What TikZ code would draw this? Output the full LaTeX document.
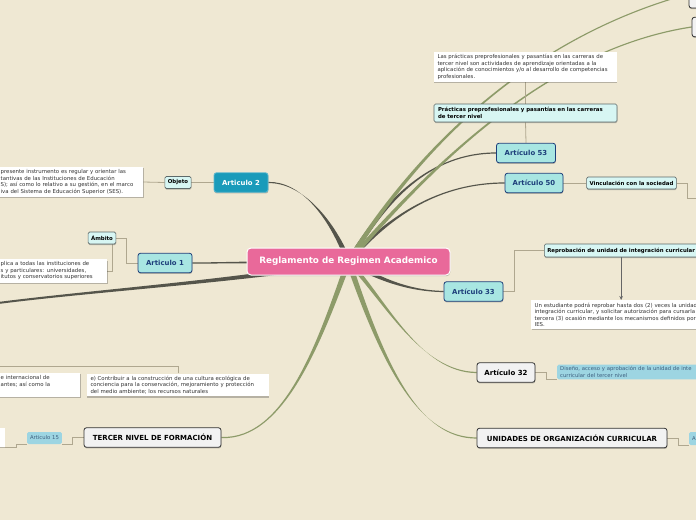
\documentclass[tikz,border=0pt]{standalone}
\usepackage{fontspec}
\setmainfont{DejaVu Sans}
\usetikzlibrary{calc,shadows,arrows.meta}
\definecolor{paper}{HTML}{EFE8D3}
\definecolor{rootpink}{HTML}{E9699A}
\definecolor{tealdark}{HTML}{1A9BBA}
\definecolor{artfill}{HTML}{A8E6E2}
\definecolor{artline}{HTML}{1D3E7A}
\definecolor{tagfill}{HTML}{D7F6F3}
\definecolor{tagline}{HTML}{5E6A6A}
\definecolor{greyfill}{HTML}{F2F2F2}
\definecolor{greyline}{HTML}{333333}
\definecolor{notefill}{HTML}{9DD5E2}
\definecolor{notetext}{HTML}{3D5E7E}
\definecolor{twigcol}{HTML}{AFA78F}
\definecolor{darkbr}{HTML}{55554B}
\definecolor{greenbr}{HTML}{8D9B69}
\pgfdeclarelayer{edges}
\pgfsetlayers{edges,main}
% tapered branch: colour, start, control 1, control 2, end, start half width, end half width
\newcommand\limb[7]{%
  \fill[#1] ($#2+#6$) .. controls ($#3+0.6*#6$) and ($#4+#7$) .. ($#5+#7$)
    -- ($#5-#7$) .. controls ($#4-#7$) and ($#3-0.6*#6$) .. ($#2-#6$) -- cycle;}
\begin{document}
\begin{tikzpicture}[x=1pt,y=-1pt,
  every node/.style={font=\fontsize{5.4}{6.5}\selectfont},
  lift/.style={drop shadow={shadow xshift=0.3pt,shadow yshift=-1.2pt,opacity=0.35,fill=black!70}},
  rootbox/.style={fill=rootpink,draw=white,line width=1pt,rounded corners=4pt,text=white,
    minimum width=203,minimum height=27,inner sep=0pt,lift,font=\fontsize{8.8}{10}\bfseries\selectfont},
  art/.style={fill=artfill,draw=artline,text=artline,line width=0.8pt,rounded corners=2.5pt,
    minimum width=#1,minimum height=19.5,inner sep=0pt,lift,font=\fontsize{6.9}{8}\bfseries\selectfont},
  artdark/.style={art=#1,fill=tealdark,draw=tealdark!70!white,text=white},
  greybox/.style={fill=greyfill,draw=greyline,text=black,line width=0.8pt,rounded corners=2.5pt,
    minimum width=#1,minimum height=19.5,inner sep=0pt,lift,font=\fontsize{7}{8}\bfseries\selectfont},
  tag/.style={fill=tagfill,draw=tagline,line width=0.6pt,rounded corners=1.5pt,minimum height=12,
    inner xsep=3pt,inner ysep=0pt,lift,font=\fontsize{5.4}{6.3}\bfseries\selectfont},
  memo/.style={fill=white,inner xsep=3.5pt,inner ysep=2.5pt,align=left,lift,text=black!80},
  note/.style={fill=notefill,text=notetext,rounded corners=1.5pt,inner xsep=3pt,inner ysep=2pt,align=left,
    font=\fontsize{5.3}{6.3}\selectfont},
  twig/.style={draw=twigcol,line width=0.8pt}]
\useasboundingbox (0,0) rectangle (696,520);
\clip (0,0) rectangle (696,520);

% centre
\node[rootbox] (root) at (348.5,261.5) {Reglamento de Regimen Academico};

% left side
\node[artdark=54] (art2) at (241,182.5) {Articulo 2};
\node[tag] (objeto) at (178,182.5) {Objeto};
\node[memo,anchor=west,text width=139pt] (objtext) at (-3,182) {presente instrumento es regular y orientar las\\
  tantivas de las Instituciones de Educación\\
  S); así como  lo relativo a su gestión, en el marco\\
  iva del Sistema de Educación Superior (SES).};
\node[art=54] (art1) at (165,263) {Articulo 1};
\node[tag] (ambito) at (102,238) {Ámbito};
\node[memo,anchor=west,text width=103pt] (ambtext) at (-3,271) {plica a todas las instituciones de\\
  s y particulares: universidades,\\
  itutos y conservatorios superiores};
\node[memo,text width=175pt] (ebox) at (178,385) {e) Contribuir a la construcción de una cultura ecológica de\\
  conciencia para la conservación, mejoramiento y protección\\
  del medio ambiente;  los recursos naturales};
\node[memo,anchor=west,text width=76pt,minimum height=24] (dbox) at (-3,385) {e internacional de\\
  antes; así como la\\ \strut};
\node[greybox=137] (tercer) at (152.5,437.5) {TERCER NIVEL DE FORMACIÓN};
\node[note,minimum height=12,inner ysep=0pt] (art15) at (44.5,438) {Articulo 15};
\node[memo,anchor=east,minimum width=60,minimum height=19] (leftbox) at (5,437.5) {};
\coordinate (lefttip) at (-2,303);
\coordinate (offL) at (-5,366.5);

% right side
\node[greybox=62,minimum height=28] (topA) at (720,-6) {};
\node[greybox=66] (topB) at (725,27) {};
\node[memo,text width=176pt] (practext) at (525.5,67) {Las prácticas preprofesionales y pasantías en las carreras de\\
  tercer nivel son actividades de aprendizaje orientadas a la\\
  aplicación de conocimientos y/o al desarrollo de competencias\\
  profesionales.};
\node[tag,text width=175pt,align=left,inner xsep=4pt,minimum height=18] (prac) at (525.5,113) {Prácticas preprofesionales y pasantías en las carreras\\
  de tercer nivel};
\node[art=59] (art53) at (526,153) {Artículo 53};
\node[art=58] (art50) at (534,183) {Artículo 50};
\node[tag] (vinc) at (631.5,183) {Vinculación con la sociedad};
\coordinate (offR) at (702,198);
\node[tag,anchor=west,minimum height=13] (repro) at (544,250.5) {Reprobación de unidad de integración curricular};
\node[art=59] (art33) at (473.5,291.5) {Artículo 33};
\node[memo,anchor=north west,text width=190pt] (reprotext) at (531,300) {Un estudiante podrá reprobar hasta dos (2) veces la unidad\\
  integración curricular, y solicitar autorización para cursarla\\
  tercera (3) ocasión mediante los mecanismos definidos por\\
  IES.};
\node[greybox=58] (art32) at (506,372.5) {Artículo 32};
\node[note,anchor=west,text width=170pt] (disenio) at (557,372) {Diseño, acceso y aprobación de la unidad de inte\\
  curricular del tercer nivel};
\node[greybox=190] (unid) at (572,438) {UNIDADES DE ORGANIZACIÓN CURRICULAR};
\node[note,anchor=west,minimum height=13,inner ysep=0pt,text width=30pt] (abox) at (689,438.5) {A};

\begin{pgfonlayer}{edges}
  \fill[paper] (0,0) rectangle (696,520);
  % branches from the centre
  \limb{darkbr}{(root.center)}{(330,215)}{(300,182)}{(art2.east)}{(3,0)}{(0,0.6)}
  \limb{darkbr}{(root.center)}{(385,200)}{(430,153)}{(art53.west)}{(3,0)}{(0,0.6)}
  \limb{darkbr}{(root.center)}{(390,215)}{(440,183)}{(art50.west)}{(3,0)}{(0,0.6)}
  \limb{darkbr}{(root.center)}{(380,280)}{(410,291)}{(art33.west)}{(0,3)}{(0,0.6)}
  \limb{darkbr}{(root.center)}{(260,262)}{(220,263)}{(art1.east)}{(0,1.6)}{(0,0.6)}
  \limb{darkbr}{(root.center)}{(250,280)}{(100,290)}{(lefttip)}{(0,3)}{(0,1)}
  \limb{greenbr}{(root.center)}{(410,160)}{(520,40)}{(topA.west)}{(3,0)}{(0,0.6)}
  \limb{greenbr}{(root.center)}{(420,180)}{(540,50)}{(topB.west)}{(3,0)}{(0,0.6)}
  \limb{greenbr}{(root.center)}{(385,300)}{(420,372)}{(art32.west)}{(3,0)}{(0,0.6)}
  \limb{greenbr}{(root.center)}{(385,370)}{(420,438)}{(unid.west)}{(3,0)}{(0,0.6)}
  \limb{greenbr}{(root.center)}{(320,340)}{(285,440)}{(tercer.east)}{(3,0)}{(0,0.6)}
  % thin links
  \draw[twig] (art2.west) -- (objeto.east);
  \draw[twig] (objeto.west) -- (objtext.east);
  \draw[twig] (art1.west) -- ++(-11,0) |- (ambito.east);
  \draw[twig] ([xshift=-4pt]ambito.south east) |- (ambtext.east);
  \draw[twig] (ebox.north) |- (offL);
  \draw[twig] (tercer.west) -- ++(-11,0) |- (art15.south east);
  \draw[twig] (art15.south west) -- ++(-11,0) |- (leftbox.south east);
  \draw[twig] (art53.north) -- (prac.south);
  \draw[twig] (prac.north) -- (practext.south);
  \draw[twig] (art50.east) -- (vinc.west);
  \draw[twig] (vinc.east) -- ++(11,0) |- (offR);
  \draw[twig] (art33.east) -- ++(11,0) |- (repro.west);
  \draw[twig] (art32.east) -- ++(11,0) |- (disenio.south west);
  \draw[twig] (unid.east) -- ++(11,0) |- (abox.south west);
  \draw[-{Stealth[length=4pt,width=3.5pt]},draw=black!60,line width=0.9pt] (repro.south) -- (repro.south |- reprotext.north);
\end{pgfonlayer}
\end{tikzpicture}
\end{document}
